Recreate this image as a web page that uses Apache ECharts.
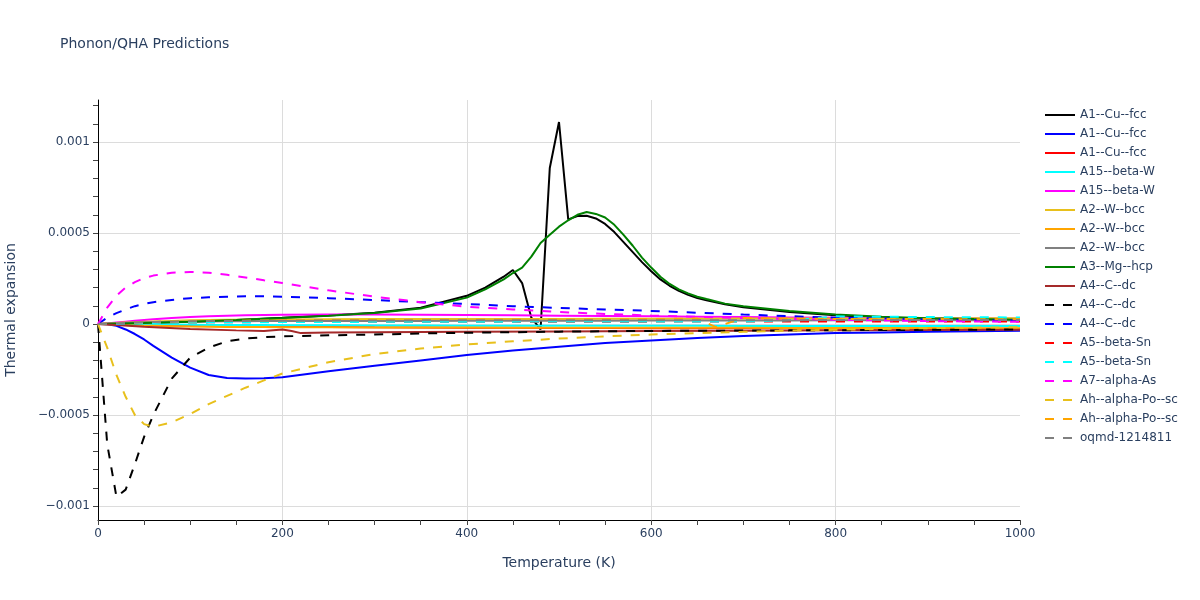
<!DOCTYPE html>
<html><head><meta charset="utf-8">
<script src="https://cdn.jsdelivr.net/npm/echarts@6/dist/echarts.min.js"></script>
<style>html,body{margin:0;padding:0;background:#fff}#c{width:1200px;height:600px}</style>
</head><body><div id="c"></div><script>
// Values below are in units of 1e-4 (thermal expansion)
const UNIT = 1e-4;
const tempsMain = [0,10,20,30,40,50,60,80,100,120,140,160,180,200,250,300,350,400,450,500,550,600,650,700,750,800,850,900,950,1000];
const tempsPeak = [0,50,100,150,200,250,300,350,400,420,440,450,460,470,480,490,500,510,520,530,540,550,560,570,580,590,600,610,620,630,640,650,660,680,700,750,800,850,900,950,1000];
const tempsBrown = [0,20,50,100,150,180,200,210,220,250,300,400,500,600,700,800,900,1000];
const tempsOrange = [0,20,50,100,150,200,300,400,500,600,650,670,700,750,800,900,1000];

const cuFccBlack = [0,0.05,0.12,0.22,0.34,0.47,0.62,0.9,1.55,2.0,2.6,2.97,2.25,0.35,-0.3,8.57,11.1,5.75,5.93,5.95,5.8,5.5,5.05,4.5,3.95,3.4,2.9,2.45,2.1,1.82,1.6,1.43,1.3,1.08,0.92,0.66,0.48,0.36,0.28,0.23,0.2];
const cuFccBlue = [0,-0.02,-0.1,-0.3,-0.55,-0.85,-1.2,-1.85,-2.4,-2.8,-2.97,-3.0,-2.98,-2.92,-2.6,-2.3,-2.0,-1.7,-1.45,-1.25,-1.05,-0.9,-0.77,-0.66,-0.57,-0.5,-0.46,-0.43,-0.4,-0.37];
const cuFccRed = [0,0,-0.01,-0.02,-0.03,-0.04,-0.05,-0.07,-0.09,-0.1,-0.11,-0.12,-0.13,-0.14,-0.16,-0.18,-0.19,-0.2,-0.21,-0.22,-0.22,-0.23,-0.23,-0.24,-0.24,-0.25,-0.25,-0.25,-0.26,-0.26];
const betaWCyan = [0,0,0,-0.01,-0.01,-0.02,-0.02,-0.03,-0.04,-0.05,-0.05,-0.06,-0.06,-0.07,-0.07,-0.08,-0.08,-0.09,-0.09,-0.1,-0.1,-0.1,-0.1,-0.11,-0.11,-0.11,-0.11,-0.11,-0.11,-0.11];
const betaWMagenta = [0,0.03,0.08,0.13,0.18,0.22,0.26,0.33,0.39,0.43,0.46,0.48,0.5,0.51,0.52,0.52,0.51,0.5,0.48,0.46,0.44,0.42,0.4,0.38,0.36,0.34,0.32,0.31,0.3,0.29];
const wBccYellow = [0,0.02,0.05,0.08,0.1,0.12,0.14,0.17,0.2,0.22,0.23,0.24,0.25,0.25,0.26,0.27,0.27,0.28,0.28,0.28,0.29,0.29,0.29,0.3,0.3,0.3,0.3,0.31,0.31,0.31];
const wBccOrange = [0,-0.02,-0.04,-0.06,-0.08,-0.09,-0.1,-0.12,-0.14,-0.15,-0.16,-0.17,-0.17,-0.18,-0.18,-0.19,-0.19,-0.19,-0.2,-0.2,-0.2,-0.21,-0.21,-0.21,-0.22,-0.22,-0.22,-0.22,-0.23,-0.23];
const wBccGrey = [0,0.02,0.04,0.06,0.08,0.09,0.1,0.12,0.13,0.14,0.15,0.15,0.16,0.16,0.17,0.17,0.17,0.18,0.18,0.18,0.18,0.19,0.19,0.19,0.19,0.2,0.2,0.2,0.2,0.2];
const mgHcpGreen = [0,0.05,0.12,0.22,0.33,0.45,0.6,0.85,1.45,1.9,2.45,2.8,3.1,3.7,4.45,4.9,5.35,5.7,6.0,6.15,6.05,5.85,5.45,4.9,4.3,3.65,3.1,2.6,2.2,1.9,1.68,1.5,1.37,1.12,0.97,0.72,0.52,0.4,0.32,0.27,0.24];
const cDcBrown = [0,-0.05,-0.15,-0.28,-0.35,-0.38,-0.3,-0.38,-0.5,-0.47,-0.45,-0.43,-0.41,-0.39,-0.37,-0.35,-0.33,-0.31];
const cDcBlackDash = [0,-6.6,-9.5,-9.1,-7.7,-6.2,-5.0,-3.0,-1.85,-1.3,-0.95,-0.8,-0.72,-0.68,-0.62,-0.58,-0.52,-0.48,-0.45,-0.42,-0.4,-0.38,-0.37,-0.36,-0.35,-0.34,-0.33,-0.32,-0.31,-0.3];
const cDcBlueDash = [0,0.35,0.6,0.8,0.98,1.1,1.2,1.32,1.42,1.47,1.5,1.52,1.52,1.5,1.42,1.32,1.2,1.1,0.98,0.88,0.8,0.72,0.62,0.52,0.43,0.35,0.3,0.25,0.22,0.2];
const snRedDash = [0,0.01,0.02,0.03,0.04,0.05,0.06,0.07,0.08,0.09,0.1,0.1,0.11,0.11,0.12,0.12,0.12,0.13,0.13,0.13,0.13,0.13,0.14,0.14,0.14,0.14,0.14,0.14,0.14,0.14];
const snCyanDash = [0,0.01,0.02,0.03,0.04,0.05,0.06,0.07,0.08,0.09,0.1,0.1,0.1,0.11,0.11,0.12,0.12,0.13,0.13,0.14,0.14,0.14,0.14,0.14,0.2,0.42,0.4,0.38,0.37,0.36];
const asMagentaDash = [0,0.9,1.55,2.0,2.3,2.52,2.66,2.82,2.86,2.82,2.7,2.56,2.4,2.25,1.85,1.5,1.2,0.95,0.8,0.66,0.55,0.47,0.4,0.33,0.28,0.23,0.2,0.16,0.14,0.12];
const poYellowDash = [0,-1.3,-2.8,-4.0,-5.0,-5.5,-5.65,-5.4,-4.95,-4.4,-3.95,-3.5,-3.1,-2.72,-2.1,-1.65,-1.35,-1.12,-0.95,-0.8,-0.68,-0.58,-0.5,-0.43,-0.36,-0.32,-0.27,-0.23,-0.2,-0.18];
const poOrangeDash = [0,0.05,0.1,0.15,0.18,0.2,0.22,0.24,0.25,0.27,0.3,-0.17,0.33,0.3,0.28,0.27,0.26];
const oqmdGreyDash = [0,0.02,0.04,0.06,0.08,0.1,0.11,0.13,0.15,0.16,0.17,0.17,0.18,0.18,0.19,0.19,0.2,0.2,0.2,0.2,0.21,0.21,0.21,0.21,0.21,0.22,0.22,0.22,0.22,0.22];

const yMajorTicks = [-0.001,-0.0005,0,0.0005,0.001];
const yMinorTicks = [-0.001,-0.0009,-0.0008,-0.0007,-0.0006,-0.0005,-0.0004,-0.0003,-0.0002,-0.0001,0,0.0001,0.0002,0.0003,0.0004,0.0005,0.0006,0.0007,0.0008,0.0009,0.001,0.0011,0.0012];

const specs = [
  ['A1--Cu--fcc', 'black', false, tempsPeak, cuFccBlack],
  ['A1--Cu--fcc\u200b', 'blue', false, tempsMain, cuFccBlue],
  ['A1--Cu--fcc\u200b\u200b', 'red', false, tempsMain, cuFccRed],
  ['A15--beta-W', 'cyan', false, tempsMain, betaWCyan],
  ['A15--beta-W\u200b', 'magenta', false, tempsMain, betaWMagenta],
  ['A2--W--bcc', '#e8c01c', false, tempsMain, wBccYellow],
  ['A2--W--bcc\u200b', 'orange', false, tempsMain, wBccOrange],
  ['A2--W--bcc\u200b\u200b', 'grey', false, tempsMain, wBccGrey],
  ['A3--Mg--hcp', 'green', false, tempsPeak, mgHcpGreen],
  ['A4--C--dc', 'brown', false, tempsBrown, cDcBrown],
  ['A4--C--dc\u200b', 'black', true, tempsMain, cDcBlackDash],
  ['A4--C--dc\u200b\u200b', 'blue', true, tempsMain, cDcBlueDash],
  ['A5--beta-Sn', 'red', true, tempsMain, snRedDash],
  ['A5--beta-Sn\u200b', 'cyan', true, tempsMain, snCyanDash],
  ['A7--alpha-As', 'magenta', true, tempsMain, asMagentaDash],
  ['Ah--alpha-Po--sc', '#e8c01c', true, tempsMain, poYellowDash],
  ['Ah--alpha-Po--sc\u200b', 'orange', true, tempsOrange, poOrangeDash],
  ['oqmd-1214811', 'grey', true, tempsMain, oqmdGreyDash]
];

const FONT = '"DejaVu Sans", Verdana, sans-serif';
const TXT = '#2a3f5f';
const GRID = '#dcdcdc';

const series = specs.map(([name, color, dashed, temps, vals]) => ({
  name, type: 'line', showSymbol: false, symbol: 'none',
  data: temps.map((t, i) => [t, vals[i] * UNIT]),
  lineStyle: { width: 2, color, type: dashed ? [9, 9] : 'solid' },
  itemStyle: { color },
  emphasis: { disabled: true },
  animation: false
}));

const fmt = v => {
  if (Math.abs(v) < 1e-12) return '0';
  const s = String(Math.abs(+(+v).toPrecision(6)));
  return (v < 0 ? '\u2212' : '') + s;
};

const chart = echarts.init(document.getElementById('c'), null, { renderer: 'canvas' });
chart.setOption({
  backgroundColor: '#fff',
  animation: false,
  title: { text: 'Phonon/QHA Predictions', left: 60, top: 37, padding: 0,
    textStyle: { fontFamily: FONT, fontSize: 14, fontWeight: 'normal', color: TXT } },
  grid: { left: 98, right: 180, top: 100, bottom: 80, containLabel: false, outerBoundsMode: 'none' },
  legend: {
    orient: 'vertical', left: 1044, top: 109, padding: 0, itemWidth: 30, itemHeight: 12, itemGap: 7,
    itemStyle: { opacity: 0 },
    textStyle: { fontFamily: FONT, fontSize: 12, color: TXT },
    data: specs.map(s => s[0])
  },
  xAxis: {
    type: 'value', min: 0, max: 1000, interval: 200,
    name: 'Temperature (K)', nameLocation: 'middle', nameGap: 36,
    nameTextStyle: { fontFamily: FONT, fontSize: 14, color: TXT },
    axisLine: { show: true, onZero: false, lineStyle: { color: '#000', width: 1 } },
    axisTick: { show: true, length: 5, lineStyle: { color: '#444' } },
    minorTick: { show: true, splitNumber: 4, length: 5, lineStyle: { color: '#444' } },
    axisLabel: { fontFamily: FONT, fontSize: 12, color: TXT, margin: 8, formatter: v => String(v) },
    splitLine: { show: true, showMinLine: false, showMaxLine: false, lineStyle: { color: GRID, width: 1 } }
  },
  yAxis: [{
    type: 'value', min: -0.0010769, max: 0.0012308,
    name: 'Thermal expansion', nameLocation: 'middle', nameGap: 80,
    nameTextStyle: { fontFamily: FONT, fontSize: 14, color: TXT },
    axisLine: { show: true, onZero: false, lineStyle: { color: '#000', width: 1 } },
    axisTick: { show: true, length: 5, customValues: yMajorTicks, lineStyle: { color: '#444' } },
    axisLabel: { fontFamily: FONT, fontSize: 12, color: TXT, margin: 8, customValues: yMajorTicks, formatter: fmt },
    splitLine: { show: true, lineStyle: { color: GRID, width: 1 } }
  }, {
    type: 'value', min: -0.0010769, max: 0.0012308, position: 'left',
    axisLine: { show: false },
    axisTick: { show: true, length: 5, customValues: yMinorTicks, lineStyle: { color: '#444' } },
    axisLabel: { show: false },
    splitLine: { show: false }
  }],
  series
});
</script></body></html>
